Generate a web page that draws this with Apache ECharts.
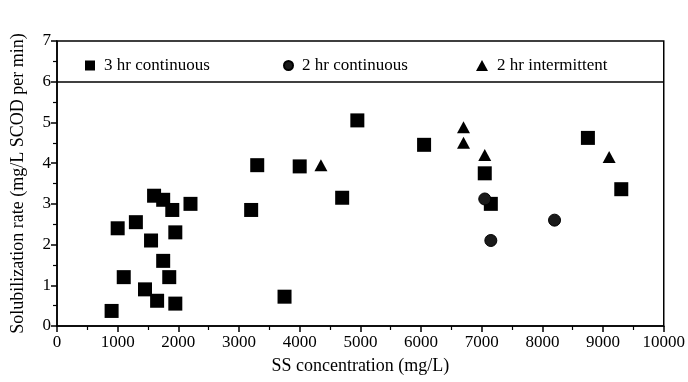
<!DOCTYPE html>
<html>
<head>
<meta charset="utf-8">
<script src="https://cdn.jsdelivr.net/npm/echarts@6/dist/echarts.min.js"></script>
<style>
  html, body { margin: 0; padding: 0; background: #fff; }
  #chart { width: 688px; height: 382px; }
</style>
</head>
<body>
<div id="chart"></div>
<script>
// [SS mg/L, rate]
const cont3hr = [
  [900, 0.37], [1000, 2.4], [1100, 1.2], [1300, 2.55], [1450, 0.9],
  [1550, 2.1], [1600, 3.2], [1650, 0.62], [1750, 3.1], [1750, 1.6],
  [1850, 1.2], [1900, 2.85], [1950, 2.3], [1950, 0.55], [2200, 3.0],
  [3200, 2.85], [3300, 3.95], [3750, 0.72], [4000, 3.92], [4700, 3.15],
  [4950, 5.05], [6050, 4.45], [7050, 3.75], [7150, 3.0], [8750, 4.62],
  [9300, 3.36]
]
const cont2hr = [[7050, 3.12], [7150, 2.1], [8200, 2.6]]
const inter2hr = [[4350, 3.95], [6700, 4.88], [6700, 4.5], [7050, 4.2], [9100, 4.15]]

const FONT = 'Liberation Serif'
const chart = echarts.init(document.getElementById('chart'))

const legendItem = (name, left, icon, w, h) => ({
  data: [{ name, icon }],
  left, top: 52,
  itemWidth: w, itemHeight: h,
  itemGap: 0,
  textStyle: { fontFamily: FONT, fontSize: 17, color: '#000', padding: [0, 0, 0, 4] },
  selectedMode: false,
})

chart.setOption({
  animation: false,
  grid: {
    left: 57, right: 21, top: 41, bottom: 56,
    show: true, borderColor: '#000', borderWidth: 1.5,
  },
  legend: [
    legendItem('3 hr continuous', 80, 'rect', 10, 10),
    legendItem('2 hr continuous', 278, 'circle', 9, 9),
    legendItem('2 hr intermittent', 471, 'triangle', 12, 11),
  ],
  xAxis: {
    type: 'value', min: 0, max: 10000, interval: 1000,
    name: 'SS concentration (mg/L)', nameLocation: 'middle', nameGap: 31,
    nameTextStyle: { fontFamily: FONT, fontSize: 18, color: '#000' },
    axisLine: { lineStyle: { color: '#000', width: 1.5 } },
    axisTick: { length: 6, lineStyle: { color: '#000', width: 1.5 } },
    minorTick: { show: true, splitNumber: 2, length: 4, lineStyle: { color: '#000', width: 1.2 } },
    axisLabel: { fontFamily: FONT, fontSize: 17, color: '#000', margin: 8, formatter: v => String(v) },
    splitLine: { show: false },
  },
  yAxis: {
    type: 'value', min: 0, max: 7, interval: 1,
    name: 'Solubilization rate (mg/L SCOD per min)', nameLocation: 'middle', nameGap: 30,
    nameTextStyle: { fontFamily: FONT, fontSize: 18, color: '#000' },
    axisLine: { lineStyle: { color: '#000', width: 1.5 } },
    axisTick: { length: 6, lineStyle: { color: '#000', width: 1.5 } },
    minorTick: { show: true, splitNumber: 2, length: 4, lineStyle: { color: '#000', width: 1.2 } },
    axisLabel: { fontFamily: FONT, fontSize: 17, color: '#000', margin: 6 },
    splitLine: { show: false },
  },
  series: [
    {
      name: '3 hr continuous', type: 'scatter', data: cont3hr,
      symbol: 'rect', symbolSize: 14,
      itemStyle: { color: '#000', opacity: 1 },
      markLine: {
        silent: true, symbol: 'none', label: { show: false },
        lineStyle: { color: '#000', width: 1.5, type: 'solid' },
        data: [{ yAxis: 6 }],
      },
    },
    {
      name: '2 hr continuous', type: 'scatter', data: cont2hr,
      symbol: 'circle', symbolSize: 12,
      itemStyle: { color: '#1a1a1a', borderColor: '#000', borderWidth: 1, opacity: 1 },
    },
    {
      name: '2 hr intermittent', type: 'scatter', data: inter2hr,
      symbol: 'triangle', symbolSize: [13, 12],
      itemStyle: { color: '#000', opacity: 1 },
    },
  ],
})
</script>
</body>
</html>
